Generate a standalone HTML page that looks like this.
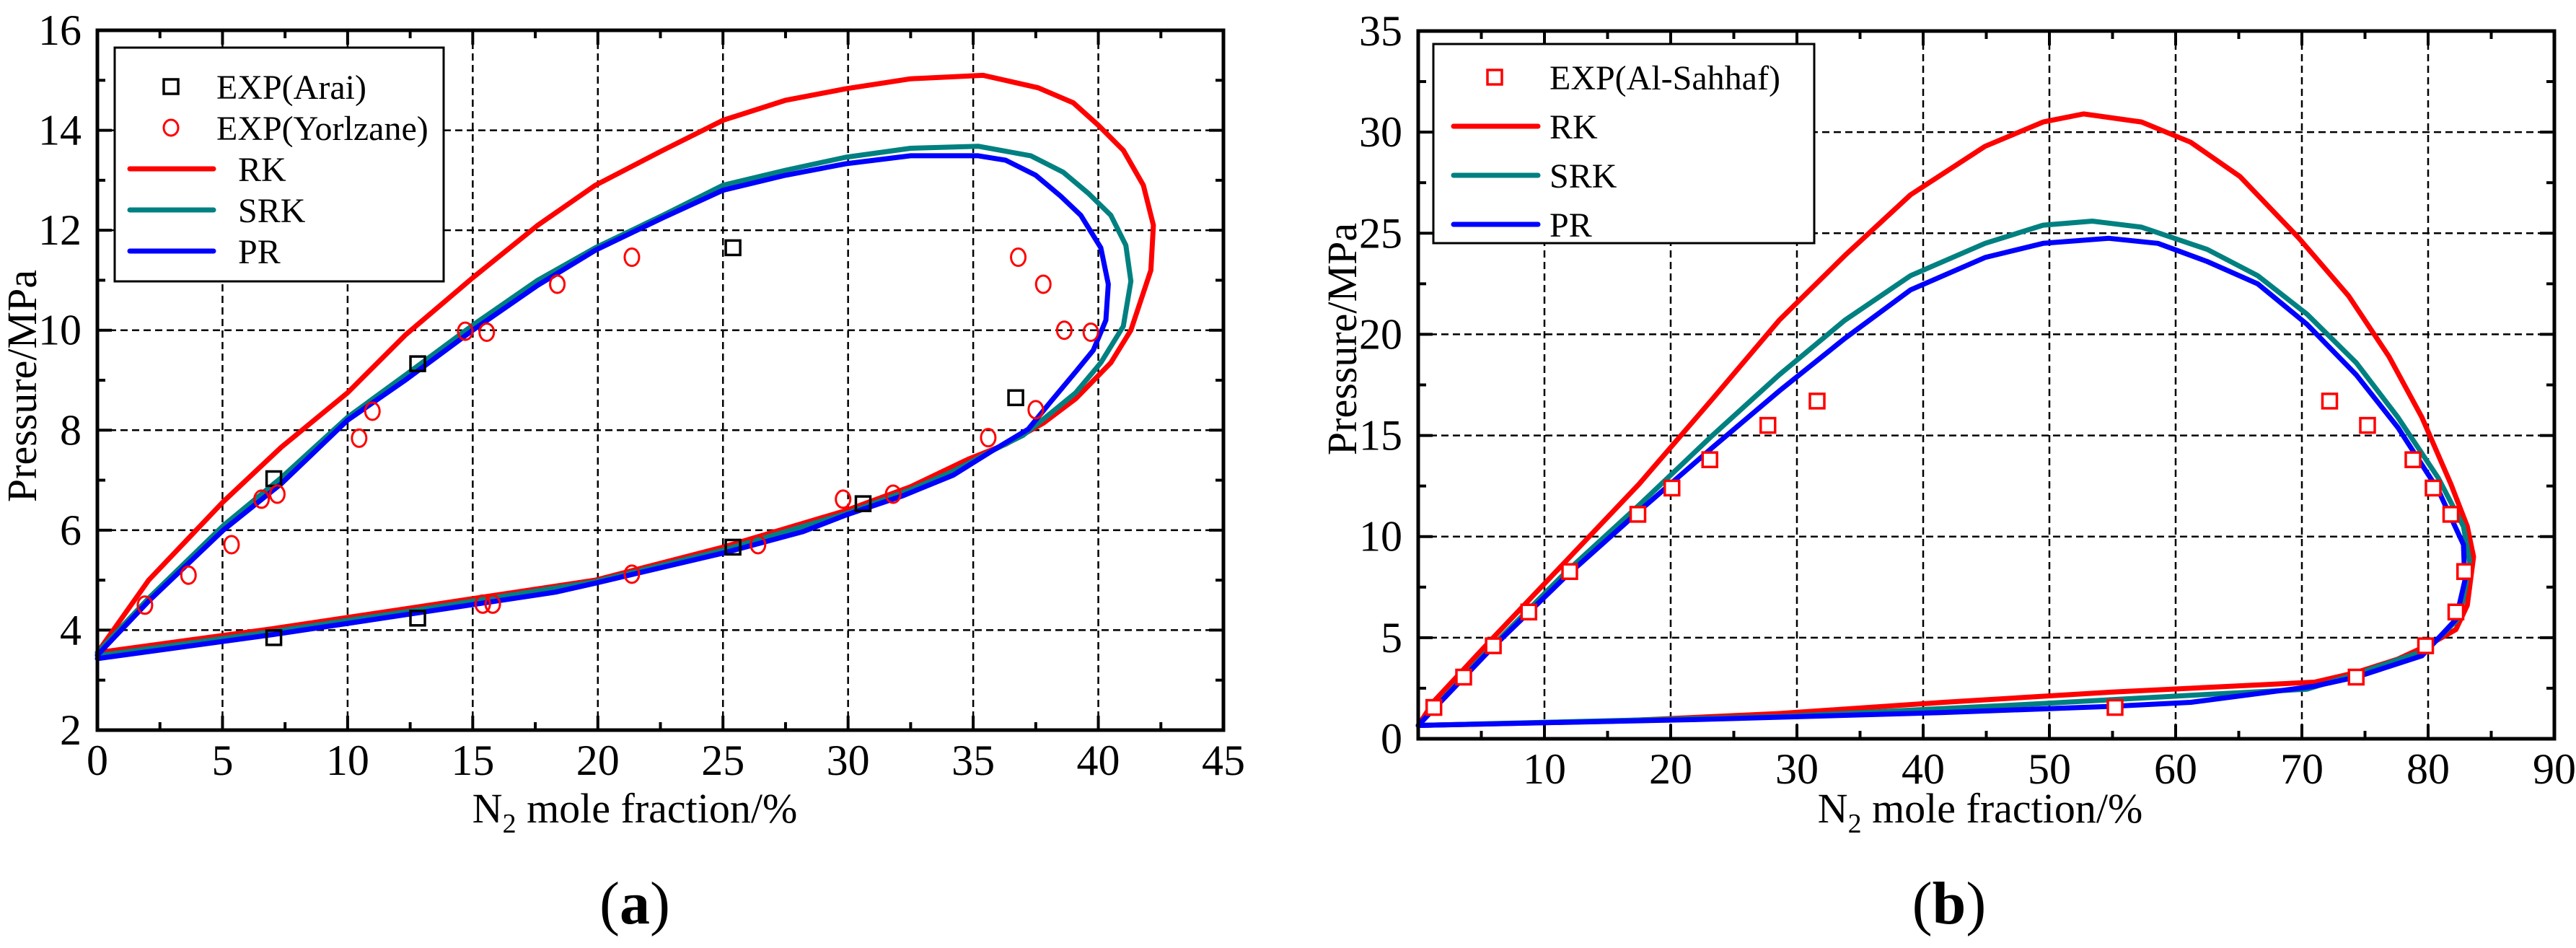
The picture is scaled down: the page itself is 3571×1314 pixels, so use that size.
<!DOCTYPE html>
<html><head><meta charset="utf-8"><style>
html,body{margin:0;padding:0;background:#fff;}
svg{display:block;}
svg text{font-family:"Liberation Serif","Times New Roman",serif;}
</style></head><body>
<svg id="fig" width="3571" height="1314" viewBox="0 0 3571 1314" xmlns="http://www.w3.org/2000/svg" font-family="Liberation Serif, serif"></svg>
<script>
// ---------- Panel (a) data ----------
const aXTicks = [0,5,10,15,20,25,30,35,40,45];
const aYTicks = [2,4,6,8,10,12,14,16];
const aRKx = [0,2.05,5.03,7.35,10,12.3,15,17.6,19.9,22.6,25,27.5,29.9,32.5,35.4,37.6,39,40,41,41.8,42.2,42.1,41.3,40.5,39.1,37.8,36.3,34.8,32.5,29.9,25,19.9,12.6,7,0];
const aRKy = [3.55,5.0,6.57,7.66,8.75,9.9,11.05,12.1,12.9,13.6,14.2,14.6,14.83,15.03,15.1,14.85,14.55,14.1,13.6,12.9,12.1,11.2,10.0,9.35,8.63,8.14,7.72,7.42,6.87,6.39,5.66,5.0,4.45,4.03,3.55];
const aSRKx = [0,2.05,5.03,7.35,10,12.3,15,17.6,19.9,22.6,25,27.5,29.9,32.5,35.2,37.3,38.6,39.6,40.5,41.1,41.3,41,40.1,39.1,37.9,37,35.8,34.2,32.5,29.9,25,19.9,12.6,7,0];
const aSRKy = [3.55,4.64,6.09,7.05,8.26,9.1,10.1,11,11.65,12.3,12.9,13.2,13.46,13.64,13.68,13.49,13.16,12.74,12.3,11.7,10.98,10.08,9.35,8.75,8.26,7.9,7.6,7.18,6.81,6.33,5.6,4.97,4.39,3.97,3.49];
const aPRx = [0,2.05,5.03,7.35,10,12.3,15,17.6,19.9,22.6,25,27.5,29.9,32.5,35.2,36.3,37.5,38.5,39.3,40.1,40.4,40.3,39.8,39.1,38.1,37.2,35.8,34.2,32.2,29.9,28.2,25,19.9,18.3,12.6,7,0];
const aPRy = [3.5,4.58,6.0,6.93,8.2,9.0,10.0,10.9,11.6,12.25,12.8,13.1,13.33,13.49,13.49,13.4,13.1,12.68,12.3,11.65,10.92,10.2,9.6,9.17,8.57,8.02,7.6,7.1,6.69,6.3,5.97,5.54,4.94,4.76,4.33,3.91,3.43];
const araiX = [25.4,12.8,7.05,7.05,12.8,25.4,30.6,36.7];
const araiY = [11.65,9.33,7.03,3.85,4.24,5.66,6.53,8.65];
const yorX = [1.9,3.64,5.36,6.56,7.19,10.46,10.99,14.7,15.56,18.38,21.36,36.8,37.8,38.64,39.7,37.5,35.6,31.8,29.8,26.4,21.36,15.4,15.8];
const yorY = [4.5,5.1,5.71,6.62,6.72,7.84,8.38,9.98,9.96,10.92,11.46,11.46,10.92,10.0,9.96,8.41,7.85,6.72,6.62,5.71,5.12,4.52,4.52];

// ---------- Panel (b) data ----------
const bXTicks = [10,20,30,40,50,60,70,80,90];
const bYTicks = [0,5,10,15,20,25,30,35];
const bRKx = [0,1.24,5.7,11.6,17.5,23.3,28.6,33.8,39,44.9,49.5,52.7,57.3,61.2,65.1,69.7,73.7,76.9,79.5,81.8,83.1,83.6,83.1,82.2,80.2,77.6,74.3,71,54.7,41.6,28.6,15.5,0];
const bRKy = [0.66,1.85,4.84,8.72,12.6,16.8,20.7,23.9,26.9,29.3,30.5,30.9,30.5,29.5,27.8,24.8,21.9,18.9,15.9,12.6,10.5,9.0,6.6,5.4,4.69,3.94,3.28,2.8,2.3,1.8,1.25,0.87,0.66];
const bSRKx = [0,5.7,11.6,17.5,23.3,28.6,33.8,39,44.9,49.5,53.4,57.3,62.5,66.5,70.4,74.3,77.6,80.8,82.8,83.3,82.5,79.9,74.3,70.4,61.2,48.2,28.6,0];
const bSRKy = [0.66,4.48,8.18,11.56,15,18,20.7,22.9,24.5,25.4,25.6,25.3,24.2,22.9,21,18.6,15.9,12.9,10.5,8.7,6.0,4.4,3.2,2.45,2.15,1.7,1.1,0.66];
const bPRx = [0,5.7,11.6,17.5,23.3,28.6,33.8,39,44.9,49.5,54.7,58.6,62.5,66.5,70.4,74.3,77.6,80.8,82.8,82.9,82.2,79.5,74.3,71,61.2,54.7,41.6,22,0];
const bPRy = [0.66,4.4,7.97,11.26,14.4,17.2,19.8,22.2,23.8,24.5,24.75,24.5,23.6,22.5,20.5,18,15.4,12.3,9.6,7.8,5.9,4.1,3.05,2.6,1.8,1.6,1.3,0.95,0.66];
const sahX = [1.24,3.6,5.95,8.76,12,17.4,20.1,23.1,27.7,31.6,55.2,72.2,75.2,78.8,80.4,81.8,82.9,82.2,79.8,74.3];
const sahY = [1.55,3.05,4.6,6.27,8.27,11.1,12.4,13.8,15.5,16.7,1.55,16.7,15.5,13.8,12.4,11.1,8.27,6.27,4.6,3.05];

const NS = "http://www.w3.org/2000/svg";
const svg = document.getElementById('fig');
const FF = '"Liberation Serif", serif';
function mk(tag, attrs, parent){
  const e = document.createElementNS(NS, tag);
  for (const k in attrs) e.setAttribute(k, attrs[k]);
  if (tag === 'text') e.setAttribute('style', 'font-family:' + FF);
  (parent||svg).appendChild(e);
  return e;
}
const RED="#ff0000", TEAL="#008080", BLUE="#0000ff";

function panel(o){
  const g = mk('g',{});
  
  
  const sx = v => o.L + (v - o.x0)/(o.x1 - o.x0)*(o.R - o.L);
  const sy = v => o.B - (v - o.y0)/(o.y1 - o.y0)*(o.B - o.T);
  o.xt.forEach(v=>{ if(v>o.x0 && v<o.x1){ const l=mk('line',{x1:sx(v),x2:sx(v),y1:o.T,y2:o.B,stroke:'#000','stroke-width':2.5,'stroke-dasharray':'10,6'},g);
     }});
  o.yt.forEach(v=>{ if(v>o.y0 && v<o.y1){ const l=mk('line',{x1:o.L,x2:o.R,y1:sy(v),y2:sy(v),stroke:'#000','stroke-width':2.5,'stroke-dasharray':'10,6'},g);
     }});
  const xstep = o.xt[1]-o.xt[0], ystep = o.yt[1]-o.yt[0];
  for(let v=o.x0; v<=o.x1+1e-9; v+=xstep/2){
    const maj = Math.abs((v-o.x0)/xstep - Math.round((v-o.x0)/xstep))<1e-6;
    const len = maj?20:11;
    mk('line',{x1:sx(v),x2:sx(v),y1:o.B,y2:o.B-len,stroke:'#000','stroke-width':4},g);
    mk('line',{x1:sx(v),x2:sx(v),y1:o.T,y2:o.T+len,stroke:'#000','stroke-width':4},g);
  }
  for(let v=o.y0; v<=o.y1+1e-9; v+=ystep/2){
    const maj = Math.abs((v-o.y0)/ystep - Math.round((v-o.y0)/ystep))<1e-6;
    const len = maj?20:11;
    mk('line',{x1:o.L,x2:o.L+len,y1:sy(v),y2:sy(v),stroke:'#000','stroke-width':4},g);
    mk('line',{x1:o.R,x2:o.R-len,y1:sy(v),y2:sy(v),stroke:'#000','stroke-width':4},g);
  }
  o.series.forEach(s=>{
    const pts = s.x.map((v,i)=>sx(v).toFixed(1)+','+sy(s.y[i]).toFixed(1)).join(' ');
    const p = mk('polyline',{points:pts,fill:'none',stroke:s.c,'stroke-width':7,'stroke-linejoin':'round','stroke-linecap':'round'},g);
    
    
  });
  o.markers.forEach(m=>{
    m.x.forEach((v,i)=>{
      let e;
      if(m.shape==='sq') e = mk('rect',{x:sx(v)-10,y:sy(m.y[i])-10,width:20,height:20,fill:m.fill,stroke:m.c,'stroke-width':3.5},g);
      else e = mk('ellipse',{cx:sx(v),cy:sy(m.y[i]),rx:10,ry:12,fill:'none',stroke:m.c,'stroke-width':3},g);
      
      
    });
  });
  const fr = mk('rect',{x:o.L,y:o.T,width:o.R-o.L,height:o.B-o.T,fill:'none',stroke:'#000','stroke-width':5},g);
   
  o.xt.forEach(v=>{ const t=mk('text',{x:sx(v),y:o.B+62,'font-size':60,'text-anchor':'middle'},g); t.textContent=v;
     });
  o.yt.forEach(v=>{ const t=mk('text',{x:o.L-22,y:sy(v)+20,'font-size':60,'text-anchor':'end'},g); t.textContent=v;
     });
  const yt = mk('text',{x:0,y:0,'font-size':58,'text-anchor':'middle',transform:`translate(${o.ylx},${o.yly}) rotate(-90)`},g);
  yt.textContent='Pressure/MPa';
   
  const xt = mk('text',{x:o.xlx,y:o.xly,'font-size':58,'text-anchor':'middle'},g);
  xt.innerHTML='N<tspan font-size="38" dy="14">2</tspan><tspan dy="-14"> mole fraction/%</tspan>';
   
  const pl = mk('text',{x:o.plx,y:1280,'font-size':84,'text-anchor':'middle'},g);
  pl.innerHTML='(<tspan font-weight="bold">'+o.letter+'</tspan>)';
   
  const lg = mk('g',{},g);
   
  mk('rect',{x:o.lg.x,y:o.lg.y,width:o.lg.w,height:o.lg.h,fill:'#fff',stroke:'#000','stroke-width':3},lg);
  o.lg.items.forEach((it,i)=>{
    const cy = o.lg.y0 + i*o.lg.dy;
    const eg = mk('g',{},lg);
     
    if(it.t==='sq') mk('rect',{x:o.lg.sym-10,y:cy-10,width:20,height:20,fill:'none',stroke:it.c,'stroke-width':3.5},eg);
    else if(it.t==='ci') mk('ellipse',{cx:o.lg.sym,cy:cy,rx:10,ry:11,fill:'none',stroke:it.c,'stroke-width':3},eg);
    else mk('line',{x1:o.lg.l1,x2:o.lg.l2,y1:cy,y2:cy,stroke:it.c,'stroke-width':7,'stroke-linecap':'round'},eg);
    const tx = mk('text',{x:(it.t==='ln'?o.lg.tx2:o.lg.tx),y:cy+17,'font-size':48},eg);
    tx.textContent = it.label;
  });
}

panel({name:'panel-a-chart',letter:'a',L:135,R:1696,T:42,B:1012,x0:0,x1:45,y0:2,y1:16,xt:aXTicks,yt:aYTicks,
  series:[{n:'rk-curve',c:RED,x:aRKx,y:aRKy},{n:'srk-curve',c:TEAL,x:aSRKx,y:aSRKy},{n:'pr-curve',c:BLUE,x:aPRx,y:aPRy}],
  markers:[{n:'arai-point',shape:'sq',c:'#000',fill:'none',x:araiX,y:araiY},{n:'yorlzane-point',shape:'ci',c:RED,x:yorX,y:yorY}],
  ylx:50,yly:535,xlx:880,xly:1140,plx:880,
  lg:{x:159,y:66,w:456,h:324,y0:120,dy:57,sym:237,l1:180,l2:296,tx:300,tx2:330,
    items:[{t:'sq',c:'#000',label:'EXP(Arai)'},{t:'ci',c:RED,label:'EXP(Yorlzane)'},{t:'ln',c:RED,label:'RK'},{t:'ln',c:TEAL,label:'SRK'},{t:'ln',c:BLUE,label:'PR'}]}});

panel({name:'panel-b-chart',letter:'b',L:1966,R:3541,T:43,B:1024,x0:0,x1:90,y0:0,y1:35,xt:bXTicks,yt:bYTicks,
  series:[{n:'rk-curve',c:RED,x:bRKx,y:bRKy},{n:'srk-curve',c:TEAL,x:bSRKx,y:bSRKy},{n:'pr-curve',c:BLUE,x:bPRx,y:bPRy}],
  markers:[{n:'al-sahhaf-point',shape:'sq',c:RED,fill:'#fff',x:sahX,y:sahY}],
  ylx:1880,yly:470,xlx:2745,xly:1140,plx:2702,
  lg:{x:1987,y:61,w:528,h:276,y0:107,dy:68,sym:2072,l1:2015,l2:2132,tx:2148,tx2:2148,
    items:[{t:'sq',c:RED,label:'EXP(Al-Sahhaf)'},{t:'ln',c:RED,label:'RK'},{t:'ln',c:TEAL,label:'SRK'},{t:'ln',c:BLUE,label:'PR'}]}});
</script>
</body></html>
